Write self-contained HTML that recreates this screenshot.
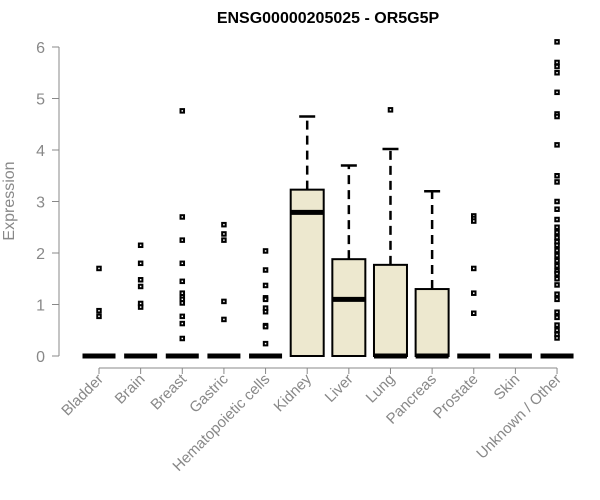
<!DOCTYPE html>
<html><head><meta charset="utf-8"><style>body{margin:0;background:#fff}svg{display:block}text{font-family:"Liberation Sans",Arial,sans-serif}</style></head>
<body>
<svg id="chart" width="600" height="500" xmlns="http://www.w3.org/2000/svg">
<text x="328" y="23" text-anchor="middle" font-weight="bold" font-size="16">ENSG00000205025 - OR5G5P</text>
<text transform="translate(14,201) rotate(-90)" text-anchor="middle" font-size="16" fill="#888">Expression</text>
<g id="axes"></g><g id="boxes"></g>
</svg>
<script>
const categories=["Bladder","Brain","Breast","Gastric","Hematopoietic cells","Kidney","Liver","Lung","Pancreas","Prostate","Skin","Unknown / Other"];
const q1=[0,0,0,0,0,0,0,0,0,0,0,0];
const medians=[0,0,0,0,0,2.79,1.1,0,0,0,0,0];
const q3=[0,0,0,0,0,3.23,1.88,1.77,1.3,0,0,0];
const whiskerHigh=[0,0,0,0,0,4.65,3.7,4.02,3.2,0,0,0];
const outliers=[
[1.7,0.88,0.77],
[2.15,1.8,1.48,1.35,1.02,0.95],
[4.76,2.7,2.25,1.8,1.45,1.22,1.15,1.1,1.03,0.77,0.63,0.34],
[2.55,2.37,2.25,1.06,0.71],
[2.04,1.67,1.37,1.13,1.1,0.93,0.86,0.59,0.57,0.24],
[],[],[4.78],[],
[2.72,2.67,2.62,1.7,1.22,0.83],
[],
[6.1,5.7,5.62,5.5,5.12,4.7,4.65,4.1,3.5,3.38,3.0,2.85,2.65,2.5,2.4,2.3,2.22,2.15,2.05,1.95,1.85,1.75,1.65,1.6,1.5,1.38,1.2,1.1,0.85,0.75,0.6,0.5,0.42,0.35]];
const yTicks=[0,1,2,3,4,5,6];
const NS="http://www.w3.org/2000/svg";
const y=v=>356-v*51.5;
const x=i=>99+i*41.64;
const axes=document.getElementById('axes'),boxes=document.getElementById('boxes');
function mk(p,t,a){const e=document.createElementNS(NS,t);for(const k in a)e.setAttribute(k,a[k]);p.appendChild(e);return e;}
let e=mk(axes,'line',{x1:59,x2:59,y1:y(6),y2:y(0),stroke:'#888'});


yTicks.forEach(t=>{
 let l=mk(axes,'line',{x1:52,x2:59,y1:y(t),y2:y(t),stroke:'#888'});
 
 
 let tx=mk(axes,'text',{x:45,y:y(t)+6,'text-anchor':'end','font-size':16,fill:'#888'});tx.textContent=t;
 
 
});
e=mk(axes,'line',{x1:x(0),x2:x(categories.length-1),y1:368,y2:368,stroke:'#888'});


categories.forEach((c,i)=>{
 let cx=x(i);
 let l=mk(axes,'line',{x1:cx,x2:cx,y1:368,y2:374,stroke:'#888'});
 
 
 let tx=mk(axes,'text',{transform:`translate(${cx+5},380) rotate(-45)`,'text-anchor':'end','font-size':15,fill:'#888'});tx.textContent=c;
 
 
 const g=mk(boxes,'g',{});
 
 
 const hw=16.5;
 if(whiskerHigh[i]>q3[i]){
  mk(g,'line',{x1:cx,x2:cx,y1:y(q3[i]),y2:y(whiskerHigh[i]),stroke:'#000','stroke-width':2.5,'stroke-dasharray':'9,6'});
  mk(g,'line',{x1:cx-8,x2:cx+8,y1:y(whiskerHigh[i]),y2:y(whiskerHigh[i]),stroke:'#000','stroke-width':2.5});
 }
 if(q3[i]>q1[i]) mk(g,'rect',{x:cx-hw,y:y(q3[i]),width:hw*2,height:y(q1[i])-y(q3[i]),fill:'#ede8cf',stroke:'#000','stroke-width':2});
 mk(g,'line',{x1:cx-hw,x2:cx+hw,y1:y(medians[i]),y2:y(medians[i]),stroke:'#000','stroke-width':5});
 outliers[i].forEach(v=>{
  let r=mk(g,'rect',{x:cx-1.75,y:y(v)-1.75,width:3.5,height:3.5,fill:'#fff',stroke:'#000','stroke-width':2});
  
  
 });
});
</script>
</body></html>
